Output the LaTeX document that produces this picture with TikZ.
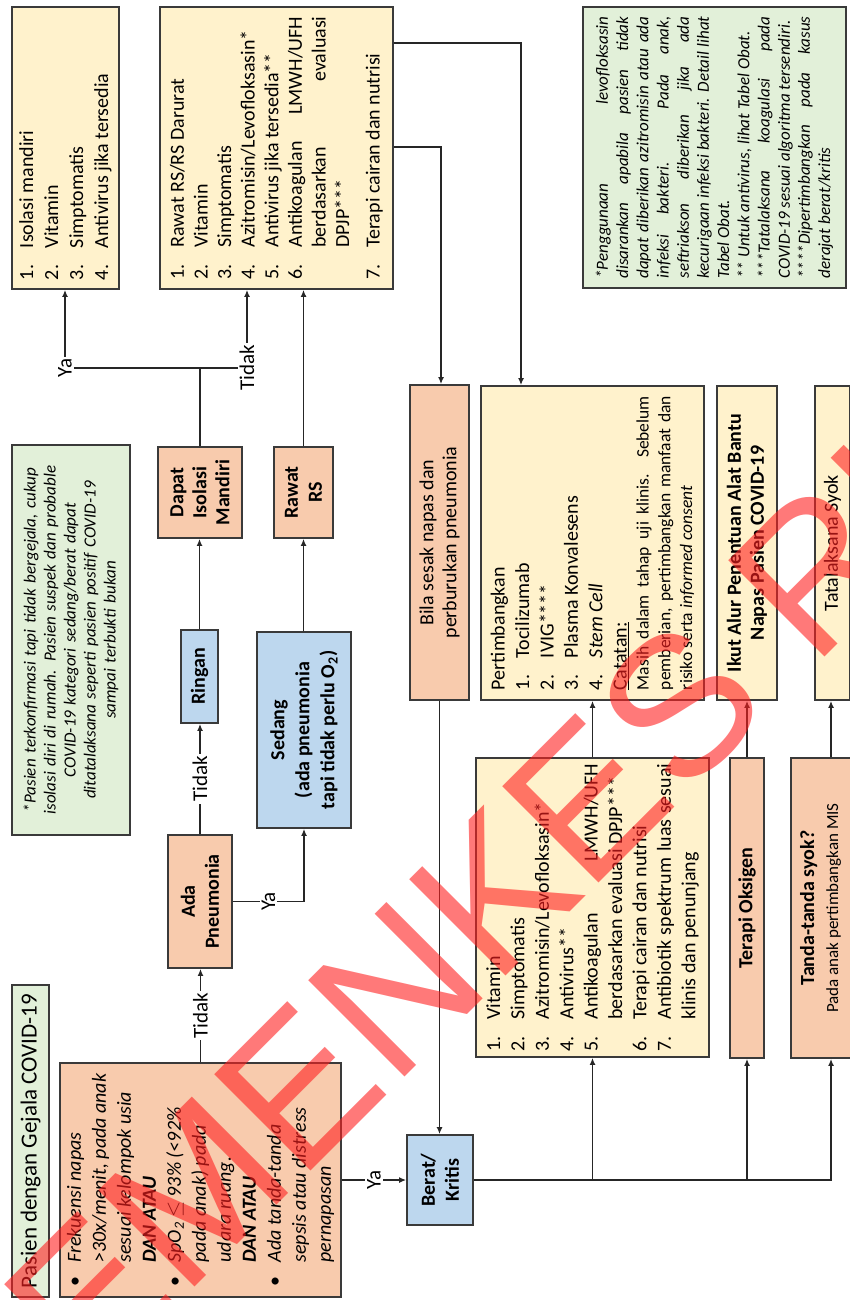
\documentclass[tikz,border=0pt]{standalone}
\usepackage{fontspec}
\setmainfont{Carlito}
\newfontfamily\wmfont{Liberation Sans}
\usetikzlibrary{arrows.meta,calc}
\definecolor{salmon}{HTML}{F8CBAD}
\definecolor{skyb}{HTML}{BDD7EE}
\definecolor{cream}{HTML}{FFF2CC}
\definecolor{mint}{HTML}{E2F0D9}
\definecolor{edge}{HTML}{3A3A3A}
\definecolor{wmred}{HTML}{FF2020}
\tolerance=10000 \hyphenpenalty=10000 \exhyphenpenalty=10000 \hbadness=10000
\setlength\parindent{0pt}
\newcommand\fsz[2]{\fontsize{#1}{#2}\selectfont}
\newcommand\li[2]{\hangindent=32pt\hangafter=1\noindent\makebox[32pt][l]{#1}#2\par}
\newcommand\bl{\makebox[24pt][l]{\upshape\textbullet}}
\newcommand\hind{\hspace*{24pt}}
\tikzset{
  box/.style={draw=edge, line width=1.8pt, rotate=90, inner sep=0pt, align=center},
  lbl/.style={fill=white, rotate=90, inner sep=2pt, font=\fsz{21}{21}},
  link/.style={draw=black!85, line width=1.6pt},
  arr/.style={link, -{Latex[length=7pt,width=6pt]}},
  wm/.style={rotate=45, anchor=base west, inner sep=0pt, outer sep=0pt, text=wmred, opacity=0.6, font=\wmfont\fsz{198}{198}},
}
\begin{document}
\begin{tikzpicture}[x=1pt,y=1pt]
\useasboundingbox (0,0) rectangle (849,-1300);

% ---------- upper row: treatment lists and notes ----------
\node[box, fill=cream, align=justify, font=\fsz{20}{25}, minimum width=282pt, minimum height=107pt, text width=264pt] (A) at (65.5,-148)
 {\li{1.}{Isolasi mandiri}\li{2.}{Vitamin}\li{3.}{Simptomatis}\li{4.}{Antivirus jika tersedia}};

\node[box, fill=cream, align=justify, font=\fsz{20}{23.6}, minimum width=282pt, minimum height=233pt, text width=263pt] (B) at (276.5,-148)
 {\li{1.}{Rawat RS/RS Darurat}\li{2.}{Vitamin}\li{3.}{Simptomatis}\li{4.}{Azitromisin/Levofloksasin*}\li{5.}{Antivirus jika tersedia**}\li{6.}{Antikoagulan LMWH/UFH\linebreak berdasarkan evaluasi\linebreak DPJP***}\vspace{7pt}\li{7.}{Terapi cairan dan nutrisi}};

\node[box, fill=mint, align=justify, font=\itshape\fsz{17}{20.2}, minimum width=281pt, minimum height=263pt, text width=262pt] (N2) at (714.5,-147.5)
 {*Penggunaan levofloksasin\linebreak disarankan apabila pasien tidak\linebreak dapat diberikan azitromisin atau ada\linebreak infeksi bakteri. Pada anak,\linebreak seftriakson diberikan jika ada\linebreak kecurigaan infeksi bakteri. Detail lihat\linebreak Tabel Obat.\par
  ** Untuk antivirus, lihat Tabel Obat.\par
  ***Tatalaksana koagulasi pada\linebreak COVID-19 sesuai algoritma tersendiri.\par
  ****Dipertimbangkan pada kasus\linebreak derajat berat/kritis\par};

% ---------- mild / moderate branch ----------
\node[box, fill=mint, font=\itshape\fsz{17}{20}, minimum width=390pt, minimum height=118pt, text width=370pt] (N1) at (71,-640)
 {*Pasien terkonfirmasi tapi tidak bergejala, cukup\\isolasi diri di rumah. Pasien suspek dan probable\\COVID-19 kategori sedang/berat dapat\\ditatalaksana seperti pasien positif COVID-19\\sampai terbukti bukan};

\node[box, fill=salmon, font=\bfseries\fsz{20}{23}, minimum width=91pt, minimum height=84pt] (DIM) at (200,-492.5) {Dapat\\Isolasi\\Mandiri};
\node[box, fill=salmon, font=\bfseries\fsz{20}{24}, minimum width=91pt, minimum height=59pt] (RS) at (303.5,-492.5) {Rawat\\RS};
\node[box, fill=skyb, font=\bfseries\fsz{20}{24}, minimum width=93pt, minimum height=37pt] (RG) at (199.5,-676.5) {Ringan};
\node[box, fill=skyb, font=\bfseries\fsz{20}{25}, minimum width=196pt, minimum height=94pt] (SD) at (304,-730) {Sedang\\(ada pneumonia\\tapi tidak perlu O\textsubscript{2})};
\node[box, fill=salmon, font=\bfseries\fsz{20}{24}, minimum width=133pt, minimum height=64pt] (AP) at (200,-901.5) {Ada\\Pneumonia};

% ---------- entry ----------
\node[box, fill=mint, font=\fsz{23}{25}, minimum width=312pt, minimum height=37pt] (T0) at (30.5,-1141) {Pasien dengan Gejala COVID-19};
\node[box, fill=salmon, align=left, font=\itshape\fsz{20}{25}, minimum width=234pt, minimum height=281pt] (K) at (200.5,-1180)
 {\bl Frekuensi napas\\
  \hind >30x/menit, pada anak\\
  \hind sesuai kelompok usia\\
  \hind \textbf{DAN ATAU}\\
  \bl SpO\textsubscript{2} $\leq$ 93\% (<92\%\\
  \hind pada anak) pada\\
  \hind udara ruang.\\
  \hind \textbf{DAN ATAU}\\
  \bl Ada tanda-tanda\\
  \hind sepsis atau distress\\
  \hind pernapasan};

% ---------- severe / critical branch ----------
\node[box, fill=skyb, font=\bfseries\fsz{20}{24}, minimum width=90pt, minimum height=66pt] (BK) at (440,-1180) {Berat/\\Kritis};
\node[box, fill=salmon, font=\fsz{20}{23}, minimum width=315pt, minimum height=59pt] (BS) at (439.5,-542.5) {Bila sesak napas dan\\perburukan pneumonia};
\node[box, fill=cream, align=justify, font=\fsz{20}{24.4}, minimum width=314pt, minimum height=223pt, text width=294pt] (P) at (592.5,-543)
 {Pertimbangkan\par
  \li{1.}{Tocilizumab}\li{2.}{IVIG****}\li{3.}{Plasma Konvalesens}\li{4.}{\textit{Stem Cell}}
  \underline{Catatan:}\par
  {\fsz{17.5}{21.8}Masih dalam tahap uji klinis. Sebelum\linebreak pemberian, pertimbangkan manfaat dan\linebreak risiko serta \textit{informed consent}\par}};
\node[box, fill=cream, font=\bfseries\fsz{20}{23}, minimum width=314pt, minimum height=60pt] (IA) at (747,-543) {Ikut Alur Penentuan Alat Bantu\\Napas Pasien COVID-19};
\node[box, fill=cream, font=\fsz{20}{24}, minimum width=314pt, minimum height=35pt] (TS) at (832.5,-543) {Tatalaksana Syok};
\node[box, fill=cream, align=justify, font=\fsz{20}{24.4}, minimum width=299pt, minimum height=233pt, text width=288pt] (V) at (592.5,-907.5)
 {\li{1.}{Vitamin}\li{2.}{Simptomatis}\li{3.}{Azitromisin/Levofloksasin*}\li{4.}{Antivirus**}\li{5.}{Antikoagulan LMWH/UFH\linebreak berdasarkan evaluasi DPJP***}\li{6.}{Terapi cairan dan nutrisi}\li{7.}{Antibiotik spektrum luas sesuai\linebreak klinis dan penunjang}};
\node[box, fill=salmon, font=\bfseries\fsz{20}{24}, minimum width=300pt, minimum height=34pt] (TO) at (747,-908) {Terapi Oksigen};
\node[box, fill=salmon, font=\fsz{17}{24}, minimum width=300pt, minimum height=80pt] (TD) at (831,-908) {{\bfseries\fsz{20}{24}Tanda-tanda syok?}\\Pada anak pertimbangkan MIS\\\mbox{}};

% ---------- connectors ----------
\coordinate (jDIM) at (200,-368);
\coordinate (cYa) at (65,-368);
\coordinate (cTidak) at (247,-368);
\coordinate (c1) at (521,-43);
\coordinate (c2) at (441,-147);
\coordinate (cT) at (831,-1180);
\coordinate (cSD) at (SD.west |- AP.south);

\draw[link] (DIM.east) -- (jDIM);
\draw[arr] (jDIM) -- (cYa) -- (cYa |- A.west);
\draw[arr] (jDIM) -- (cTidak) -- (cTidak |- B.west);
\draw[arr] (RG.east) -- (RG.east |- DIM.west);
\draw[arr] (RS.west |- SD.east) -- (RS.west);
\draw[arr] (RS.east) -- (RS.east |- B.west);
\draw[arr] (AP.east) -- node[lbl]{Tidak} (AP.east |- RG.west);
\draw[arr] (AP.south) -- node[lbl]{Ya} (cSD) -- (SD.west);
\draw[arr] (K.east) -- node[lbl]{Tidak} (K.east |- AP.west);
\draw[arr] (K.south) -- node[lbl]{Ya} (BK.north);
\draw[arr] (B.south |- c1) -- (c1) -- (c1 |- P.east);
\draw[arr] (B.south |- c2) -- (c2) -- (c2 |- BS.east);
\draw[arr] (BS.west) -- (BS.west |- BK.east);
\draw[arr] (BK.south) -- (BK.south -| cT) -- (cT |- TD.west);
\draw[arr] (BK.south -| V.west) -- (V.west);
\draw[arr] (BK.south -| TO.west) -- (TO.west);
\draw[arr] (V.east) -- (V.east |- P.west);
\draw[arr] (TO.east) -- (TO.east |- IA.west);
\draw[arr] (cT |- TD.east) -- (cT |- TS.west);
\node[lbl] (lYa) at (cYa) {Ya};
\node[lbl] (lTidak) at (cTidak) {Tidak};

% ---------- watermark ----------
\node[wm] (wm) at (-3.6,-1485.6) {KEMENKES RI};
\end{tikzpicture}
\end{document}
